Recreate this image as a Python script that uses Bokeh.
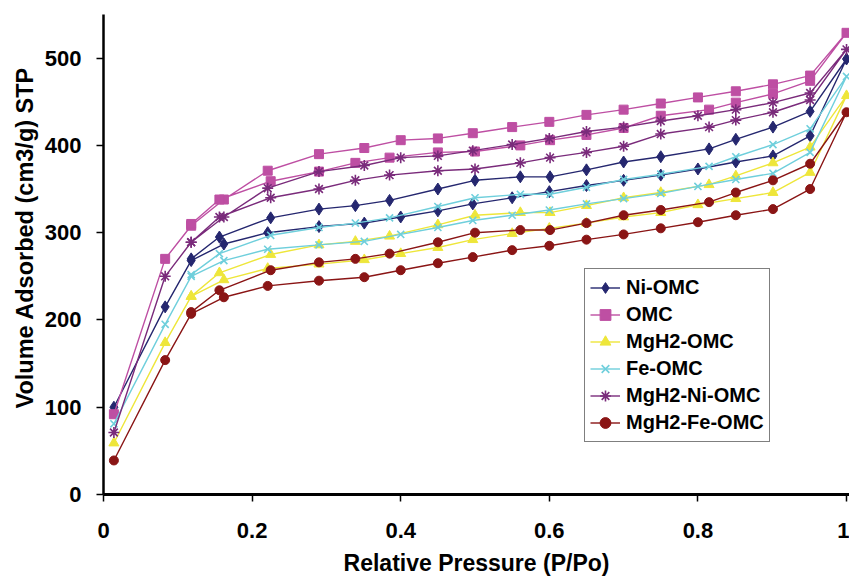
from bokeh.plotting import figure
from bokeh.models import Range1d, FixedTicker, Legend, Title
from bokeh.embed import file_html
from bokeh.resources import INLINE

# Relative pressure values: branch A (rising) and branch B (returning)
p_a = [0.014, 0.083, 0.118, 0.162, 0.221, 0.29, 0.351, 0.40, 0.45, 0.497,
       0.55, 0.60, 0.65, 0.70, 0.75, 0.80, 0.851, 0.901, 0.951, 1.0]
p_b = [0.951, 0.901, 0.851, 0.815, 0.75, 0.70, 0.65, 0.601, 0.561, 0.50,
       0.45, 0.385, 0.339, 0.29, 0.225, 0.156, 0.118]

ni_omc_a = [100, 215, 268, 287, 300, 307, 311, 318, 325, 333, 340, 347, 354, 360, 366, 373, 381, 388, 411, 499]
ni_omc_b = [439, 421, 407, 396, 387, 381, 372, 364, 364, 360, 350, 337, 331, 327, 317, 295, 270]

omc_a = [92, 270, 308, 338, 371, 390, 397, 406, 408, 414, 421, 427, 435, 441, 448, 455, 462, 470, 480, 529]
omc_b = [474, 459, 449, 441, 434, 420, 412, 406, 400, 393, 392, 386, 380, 370, 359, 338, 310]

mgh2_omc_a = [59, 174, 227, 246, 259, 264, 269, 276, 283, 292, 299, 305, 311, 318, 323, 332, 339, 346, 369, 457]
mgh2_omc_b = [398, 380, 365, 355, 346, 340, 331, 323, 323, 320, 309, 296, 290, 286, 275, 254, 227]

fe_omc_a = [81, 195, 250, 268, 281, 286, 290, 298, 306, 314, 320, 326, 333, 339, 345, 353, 361, 368, 392, 479]
fe_omc_b = [419, 401, 387, 376, 367, 361, 352, 344, 344, 340, 330, 317, 311, 306, 297, 276, 252]

mgh2_ni_omc_a = [71, 250, 289, 318, 351, 370, 377, 386, 388, 394, 401, 408, 416, 421, 428, 434, 441, 449, 460, 510]
mgh2_ni_omc_b = [452, 438, 429, 421, 413, 399, 392, 386, 380, 373, 371, 366, 360, 350, 340, 318, 289]

mgh2_fe_omc_a = [39, 154, 207, 226, 239, 245, 249, 257, 265, 272, 280, 285, 292, 298, 305, 312, 320, 327, 350, 438]
mgh2_fe_omc_b = [379, 360, 346, 335, 326, 320, 311, 303, 303, 300, 289, 276, 270, 266, 257, 234, 209]

series_names = ["Ni-OMC", "OMC", "MgH2-OMC", "Fe-OMC", "MgH2-Ni-OMC", "MgH2-Fe-OMC"]
series_a = [ni_omc_a, omc_a, mgh2_omc_a, fe_omc_a, mgh2_ni_omc_a, mgh2_fe_omc_a]
series_b = [ni_omc_b, omc_b, mgh2_omc_b, fe_omc_b, mgh2_ni_omc_b, mgh2_fe_omc_b]
colors = ["#25276F", "#BE4FA3", "#EEE63A", "#6FCFDC", "#7A2B7B", "#8A1515"]
markers = ["diamond", "square", "triangle", "x", "asterisk", "circle"]
sizes = [12, 9, 10, 10, 11, 9]

x_ticks = [0, 0.2, 0.4, 0.6, 0.8, 1.0]
y_ticks = [0, 100, 200, 300, 400, 500]

FONT = "Liberation Sans"

p = figure(width=849, height=579, output_backend="svg", toolbar_location=None,
           x_range=Range1d(0, 1.004), y_range=Range1d(0, 550),
           min_border_left=103, min_border_right=0, min_border_top=14, min_border_bottom=85)
p.outline_line_color = None
p.xgrid.visible = False
p.ygrid.visible = False
p.background_fill_color = "white"
p.border_fill_color = "white"

for ax in (p.xaxis[0], p.yaxis[0]):
    ax.axis_line_color = "black"
    ax.major_tick_line_color = "black"
    ax.major_tick_line_width = 1.5
    ax.major_tick_in = 0
    ax.major_tick_out = 7
    ax.minor_tick_line_color = None
    ax.major_label_text_font = FONT
    ax.major_label_text_font_style = "bold"
    ax.major_label_text_font_size = "22px"
    ax.major_label_text_color = "black"
    ax.axis_label_text_font = FONT
    ax.axis_label_text_font_style = "bold"
    ax.axis_label_text_font_size = "23px"
    ax.axis_label_text_color = "black"

p.xaxis[0].axis_line_width = 3
p.yaxis[0].axis_line_width = 2.5
p.xaxis[0].ticker = FixedTicker(ticks=x_ticks)
p.yaxis[0].ticker = FixedTicker(ticks=y_ticks)
p.xaxis[0].major_label_overrides = {0: "0", 1: "1"}
p.xaxis[0].major_label_standoff = 21
p.yaxis[0].major_label_standoff = 15
p.xaxis[0].axis_label = "Relative Pressure (P/Po)"
p.xaxis[0].axis_label_standoff = 9

ytitle = Title(text="Volume Adsorbed (cm3/g) STP", align="left", offset=86,
               text_font=FONT, text_font_style="bold", text_font_size="23.5px",
               text_color="black", standoff=8)
p.add_layout(ytitle, "left")

items = []
for name, ya, yb, c, m, s in zip(series_names, series_a, series_b, colors, markers, sizes):
    xs = p_a + p_b
    ys = ya + yb
    r_line = p.line(xs, ys, line_color=c, line_width=1.4)
    if m in ("x", "asterisk"):
        r_mark = p.scatter(xs, ys, marker=m, size=s, line_color=c, line_width=1.6)
    else:
        r_mark = p.scatter(xs, ys, marker=m, size=s, fill_color=c, line_color=c, line_width=1)
    items.append((name, [r_line, r_mark]))

legend = Legend(items=items, location=(481, 52))
legend.label_text_font = FONT
legend.label_text_font_style = "bold"
legend.label_text_font_size = "20px"
legend.label_text_color = "black"
legend.border_line_color = "black"
legend.border_line_width = 1
legend.background_fill_color = "white"
legend.background_fill_alpha = 1
legend.padding = 5
legend.spacing = 0
legend.margin = 0
legend.glyph_width = 30
legend.glyph_height = 27
legend.label_height = 27
legend.label_standoff = 6
p.add_layout(legend, "center")

open("out.html", "w").write(file_html(p, INLINE))
